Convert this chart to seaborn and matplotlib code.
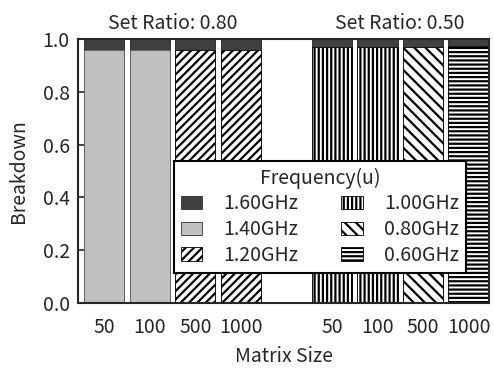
import numpy as np
import pandas as pd
import matplotlib
matplotlib.use("Agg")
import matplotlib.pyplot as plt
from matplotlib.patches import Patch
import seaborn as sns

# Data
positions = [0, 1, 2, 3, 5, 6, 7, 8]
sizes = ["50", "100", "500", "1000", "50", "100", "500", "1000"]
group_titles = ["Set Ratio: 0.80", "Set Ratio: 0.50"]
group_centers = [1.5, 6.5]
top_share = [0.04, 0.04, 0.04, 0.04, 0.03, 0.03, 0.03, 0.025]   # 1.60GHz on top
low_freq = ["1.40GHz", "1.40GHz", "1.20GHz", "1.20GHz",
            "1.00GHz", "1.00GHz", "0.80GHz", "0.60GHz"]          # rest of the bar

freqs = ["1.60GHz", "1.40GHz", "1.20GHz", "1.00GHz", "0.80GHz", "0.60GHz"]
face = {"1.60GHz": "#404040", "1.40GHz": "#c0c0c0", "1.20GHz": "white",
        "1.00GHz": "white", "0.80GHz": "white", "0.60GHz": "white"}
hatch = {"1.60GHz": "", "1.40GHz": "", "1.20GHz": "////",
         "1.00GHz": "||||", "0.80GHz": "\\\\\\", "0.60GHz": "----"}

df = pd.DataFrame({"pos": positions, "size": sizes,
                   "top": top_share, "freq": low_freq})
df["low"] = 1.0 - df["top"]

sns.set_style("ticks")
plt.rcParams["font.family"] = ["Noto Sans CJK JP", "DejaVu Sans"]
plt.rcParams["hatch.linewidth"] = 1.6
FS = 14

fig = plt.figure(figsize=(4.94, 3.71), dpi=100)
ax = fig.add_axes([78 / 494, 1 - 303 / 371, (489 - 78) / 494, (303 - 39) / 371])

# full height in dark first (the 1.60GHz slice), lower slice drawn over it
sns.barplot(data=df.assign(total=1.0), x="pos", y="total", native_scale=True,
            width=0.88, color=face["1.60GHz"], edgecolor="#202020",
            linewidth=0.6, errorbar=None, ax=ax)
for f in freqs[1:]:
    sub = df[df["freq"] == f]
    if sub.empty:
        continue
    n0 = len(ax.patches)
    sns.barplot(data=sub, x="pos", y="low", native_scale=True, width=0.88,
                color=face[f], edgecolor="black", linewidth=0.6,
                errorbar=None, ax=ax)
    for p in ax.patches[n0:]:
        p.set_facecolor(face[f])
        p.set_hatch(hatch[f])
        p.set_edgecolor("black" if hatch[f] else "#606060")

ax.set_xlim(-0.58, 8.45)
ax.set_ylim(0, 1.0)
ax.set_xticks(positions)
ax.set_xticklabels(sizes, fontsize=FS)
ax.tick_params(axis="x", length=0, pad=10)
ax.set_yticks(np.arange(0, 1.01, 0.2))
ax.set_yticklabels([f"{v:.1f}" for v in np.arange(0, 1.01, 0.2)], fontsize=FS)
ax.tick_params(axis="y", direction="in", length=6, width=1.2, right=True, pad=6)
for s in ax.spines.values():
    s.set_linewidth(1.5)
    s.set_visible(True)

ax.set_xlabel("Matrix Size", fontsize=FS, labelpad=6)
ax.set_ylabel("Breakdown", fontsize=FS, labelpad=10)

for t, c in zip(group_titles, group_centers):
    ax.text(c, 1.02, t, ha="center", va="bottom", fontsize=FS,
            transform=ax.get_xaxis_transform())

handles = [Patch(facecolor=face[f], hatch=hatch[f],
                 edgecolor="black" if hatch[f] else "#303030", linewidth=0.6,
                 label=f) for f in freqs]
leg = ax.legend(handles=handles, ncol=2, title="Frequency(u)", fontsize=FS,
                title_fontsize=FS, loc="lower right",
                bbox_to_anchor=(0.944, 0.114), borderaxespad=0,
                frameon=True, fancybox=False,
                handlelength=1.1, handleheight=0.7, columnspacing=2.2,
                handletextpad=1.1, labelspacing=0.25, borderpad=0.35,
                framealpha=1)
leg.get_frame().set_edgecolor("black")
leg.get_frame().set_linewidth(1.5)

fig.savefig("out.png", dpi=100)
